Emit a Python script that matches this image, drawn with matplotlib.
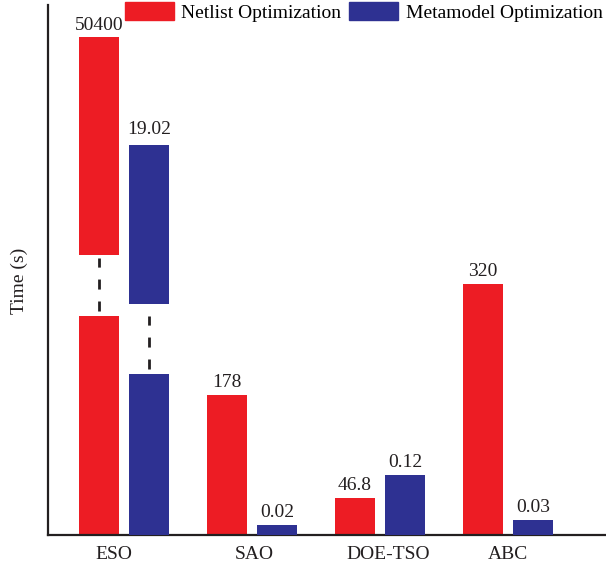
import matplotlib
matplotlib.use("Agg")
import matplotlib.pyplot as plt
import numpy as np

plt.rcParams['font.family'] = ['Liberation Serif', 'DejaVu Serif']

methods = ['ESO', 'SAO', 'DOE-TSO', 'ABC']
netlist_time = [50400, 178, 46.8, 320]
metamodel_time = [19.02, 0.02, 0.12, 0.03]
netlist_labels = ['50400', '178', '46.8', '320']
metamodel_labels = ['19.02', '0.02', '0.12', '0.03']

RED = '#ED1C24'
BLUE = '#2E3192'

# ESO values are far off the scale, so they are drawn as broken bars:
# (lower piece top, upper piece bottom, upper piece top) in each axis' units
eso_net_break = (279, 357, 634)
eso_meta_break = (0.322, 0.462, 0.78)

fig = plt.figure(figsize=(6.06, 5.67), dpi=100)
ax = fig.add_axes([48 / 606, 32 / 567, 558 / 606, 530 / 567])
ax2 = ax.twinx()

x = np.arange(len(methods))
w = 0.31
off = 0.195

ax.set_xlim(-0.594, 3.766)
ax.set_ylim(0, 675)
ax2.set_ylim(0, 1.06)


def label(axis, xpos, ypos, text, pad=3):
    axis.annotate(text, (xpos, ypos), xytext=(0, pad), textcoords='offset points',
                  ha='center', va='bottom', fontsize=14, color='#231f20')


for i in range(len(methods)):
    xn = x[i] - off
    xm = x[i] + off
    if methods[i] == 'ESO':
        lo, b, t = eso_net_break
        ax.bar(xn, lo, w, color=RED)
        ax.bar(xn, t - b, w, bottom=b, color=RED)
        ax.plot([xn, xn], [285, 353], color='#231f20', lw=2,
                linestyle=(0, (3.6, 4.3)))
        label(ax, xn, t, netlist_labels[i], pad=2)

        lo, b, t = eso_meta_break
        ax2.bar(xm, lo, w, color=BLUE)
        ax2.bar(xm, t - b, w, bottom=b, color=BLUE)
        ax2.plot([xm, xm], [0.332, 0.438], color='#231f20', lw=2,
                 linestyle=(0, (3.6, 4.3)))
        label(ax2, xm, t, metamodel_labels[i], pad=5)
    else:
        ax.bar(xn, netlist_time[i], w, color=RED)
        label(ax, xn, netlist_time[i], netlist_labels[i])
        ax2.bar(xm, metamodel_time[i], w, color=BLUE)
        label(ax2, xm, metamodel_time[i], metamodel_labels[i])

for a in (ax, ax2):
    for s in ('top', 'right'):
        a.spines[s].set_visible(False)
ax2.spines['left'].set_visible(False)
ax2.spines['bottom'].set_visible(False)
ax2.set_yticks([])
ax.set_yticks([])
ax.spines['left'].set_linewidth(1.6)
ax.spines['bottom'].set_linewidth(1.6)
ax.spines['left'].set_color('#231f20')
ax.spines['bottom'].set_color('#231f20')

# category names sit roughly under each pair, ESO a little left of centre
ax.set_xticks(x + np.array([-0.08, 0.02, 0.06, 0.0]))
ax.set_xticklabels(methods, fontsize=14, color='#231f20')
ax.tick_params(axis='x', length=0, pad=8)
ax.set_ylabel('Time (s)', fontsize=14, color='#231f20')
ax.yaxis.set_label_coords(-0.036, 0.48)

handles = [plt.Rectangle((0, 0), 1, 1, color=RED),
           plt.Rectangle((0, 0), 1, 1, color=BLUE)]
fig.legend(handles, ['Netlist Optimization', 'Metamodel Optimization'],
           loc='upper left', bbox_to_anchor=(125 / 606, 1 - 2 / 567),
           ncol=2, frameon=False, fontsize=14, borderpad=0, borderaxespad=0,
           handlelength=2.5, handleheight=1.05, handletextpad=0.4,
           columnspacing=0.4)

fig.savefig('out.png', dpi=100)
